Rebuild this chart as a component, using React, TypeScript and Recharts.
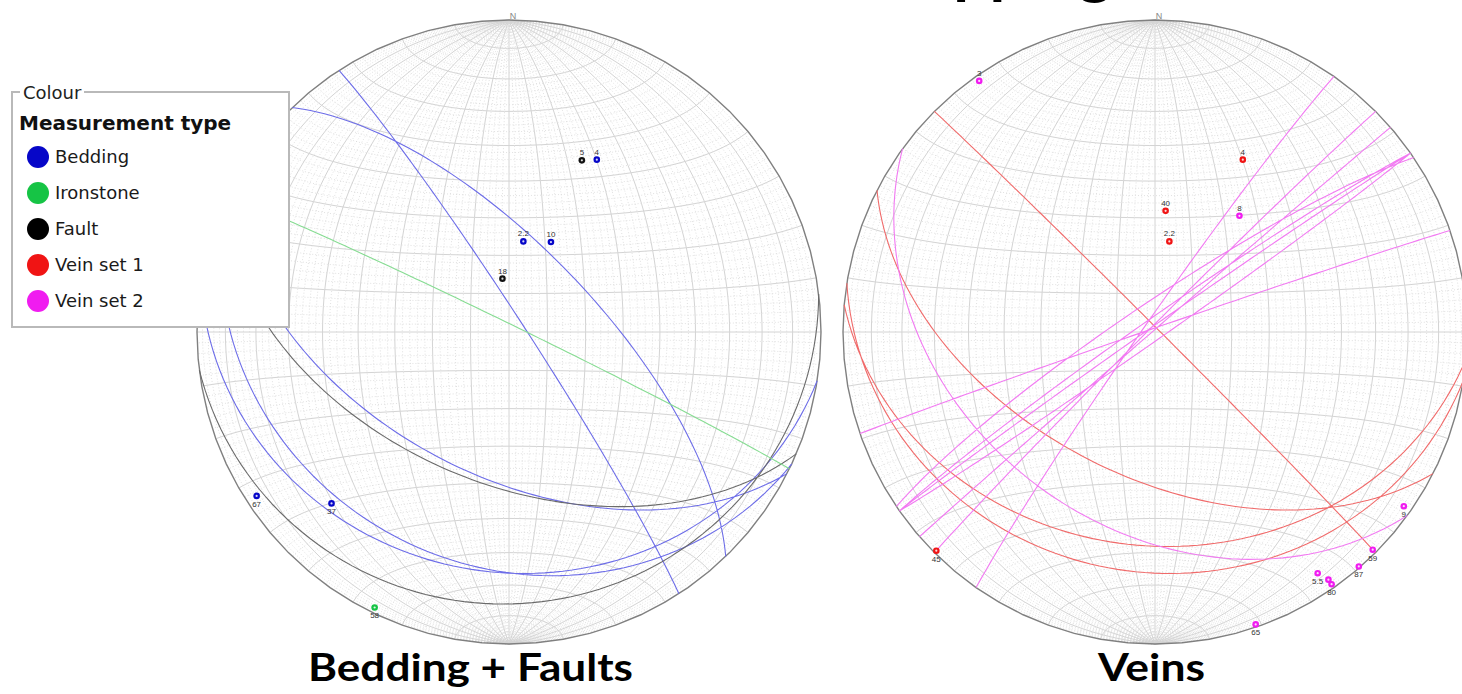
import React from 'react';
import { ComposedChart, Line, Scatter, XAxis, YAxis } from 'recharts';

// plane measurements: dip direction / dip (poles and great circles both come from these)
const beddingDipDir = [207, 189, 205, 57, 46];
const beddingDip = [52, 24, 26, 86, 68];
const beddingLabels = ['4', '2.2', '10', '67', '37'];

const faultDipDir = [203, 173];
const faultDip = [50, 14];
const faultLabels = ['5', '18'];

const ironDipDir = [26];
const ironDip = [88];
const ironLabels = ['58'];

const vein1DipDir = [207, 185, 189, 45];
const vein1Dip = [52, 32, 24, 89];
const vein1Labels = ['4', '40', '2.2', '45'];

const vein2DipDir = [145, 216, 315, 305, 319, 326, 325, 325, 341];
const vein2Dip = [88, 38, 88.5, 87, 89.5, 82.5, 86.5, 88.5, 89];
const vein2Labels = ['3', '8', '59', '9', '87', '5.5', '', '80', '65'];

const legendNames = ['Bedding', 'Ironstone', 'Fault', 'Vein set 1', 'Vein set 2'];

// net grid spacing (degrees)
const majorStep = 10;
const minorStep = 2;

const COLORS: Record<string, { line: string; dot: string }> = {
  Bedding: { line: '#6c6ce8', dot: '#0606c8' },
  Ironstone: { line: '#86dc92', dot: '#16c445' },
  Fault: { line: '#6a6a6a', dot: '#111111' },
  'Vein set 1': { line: '#f06a6a', dot: '#f01414' },
  'Vein set 2': { line: '#f27af2', dot: '#f01cf0' },
};

const D2R = Math.PI / 180;
type Vec = [number, number, number]; // north, east, down
type Pt = { x: number; y: number | null; label?: string };

// lower hemisphere, equal-area (Schmidt) projection
const project = (v: Vec): Pt => {
  let [n, e, d] = v;
  if (d < 0) {
    n = -n;
    e = -e;
    d = -d;
  }
  const h = Math.hypot(n, e);
  const r = Math.sqrt(Math.max(0, 1 - Math.min(1, d)));
  if (h < 1e-12) return { x: 0, y: 0 };
  return { x: (r * e) / h, y: (r * n) / h };
};

const greatCircle = (dd: number, dip: number, step = 2): Pt[] => {
  const s: Vec = [Math.cos((dd - 90) * D2R), Math.sin((dd - 90) * D2R), 0];
  const w: Vec = [
    Math.cos(dip * D2R) * Math.cos(dd * D2R),
    Math.cos(dip * D2R) * Math.sin(dd * D2R),
    Math.sin(dip * D2R),
  ];
  const out: Pt[] = [];
  for (let a = 0; a <= 180; a += step) {
    const c = Math.cos(a * D2R);
    const sn = Math.sin(a * D2R);
    out.push(project([c * s[0] + sn * w[0], c * s[1] + sn * w[1], c * s[2] + sn * w[2]]));
  }
  return out;
};

// small circle about the N-S axis
const smallCircle = (alpha: number, step = 2): Pt[] => {
  const out: Pt[] = [];
  for (let f = 0; f <= 180; f += step) {
    out.push(
      project([
        Math.cos(alpha * D2R),
        Math.sin(alpha * D2R) * Math.cos(f * D2R),
        Math.sin(alpha * D2R) * Math.sin(f * D2R),
      ])
    );
  }
  return out;
};

const poleOf = (dd: number, dip: number): Vec => [
  -Math.cos(dd * D2R) * Math.sin(dip * D2R),
  -Math.sin(dd * D2R) * Math.sin(dip * D2R),
  Math.cos(dip * D2R),
];

const joinPaths = (paths: Pt[][]): Pt[] => {
  const out: Pt[] = [];
  paths.forEach((p) => {
    out.push(...p);
    out.push({ x: 0, y: null });
  });
  return out;
};

const buildGrid = (step: number, skip: number, res: number) => {
  const paths: Pt[][] = [];
  for (let a = step; a < 90; a += step) {
    if (skip && a % skip === 0) continue;
    paths.push(greatCircle(90, a, res));
    paths.push(greatCircle(270, a, res));
    paths.push(smallCircle(a, res));
    paths.push(smallCircle(180 - a, res));
  }
  return joinPaths(paths);
};

const minorGrid = buildGrid(minorStep, majorStep, 3);
const majorGrid = joinPaths([
  ...buildGrid(majorStep, 0, 2).length ? [buildGrid(majorStep, 0, 2)] : [],
  greatCircle(90, 90, 2),
  [
    { x: -1, y: 0 },
    { x: 1, y: 0 },
  ],
]);

const primitive: Pt[] = [];
for (let a = 0; a <= 360; a += 5) primitive.push({ x: Math.sin(a * D2R), y: Math.cos(a * D2R) });

type SetDef = { name: string; dipDir: number[]; dip: number[]; labels: string[] };

const leftSets: SetDef[] = [
  { name: 'Bedding', dipDir: beddingDipDir, dip: beddingDip, labels: beddingLabels },
  { name: 'Fault', dipDir: faultDipDir, dip: faultDip, labels: faultLabels },
  { name: 'Ironstone', dipDir: ironDipDir, dip: ironDip, labels: ironLabels },
];
const rightSets: SetDef[] = [
  { name: 'Vein set 1', dipDir: vein1DipDir, dip: vein1Dip, labels: vein1Labels },
  { name: 'Vein set 2', dipDir: vein2DipDir, dip: vein2Dip, labels: vein2Labels },
];

const makePole = (color: string) => (props: any) => {
  const { cx, cy, payload } = props;
  if (cx == null || cy == null) return <g />;
  const below = payload.y < 0;
  return (
    <g>
      <circle cx={cx} cy={cy} r={3.3} fill={color} />
      <circle cx={cx} cy={cy} r={1.1} fill="#ffffff" opacity={0.85} />
      <text
        x={cx}
        y={below ? cy + 11 : cy - 5}
        textAnchor="middle"
        fontSize={8}
        fontFamily="Liberation Sans, Arial, sans-serif"
        fill="#333"
      >
        {payload.label}
      </text>
    </g>
  );
};

const Net = ({ sets }: { sets: SetDef[] }) => (
  <ComposedChart width={640} height={640} margin={{ top: 8, right: 8, bottom: 8, left: 8 }}>
    <XAxis type="number" dataKey="x" domain={[-1, 1]} hide />
    <YAxis type="number" dataKey="y" domain={[-1, 1]} hide />
    <Line data={minorGrid} dataKey="y" stroke="#d9d9d9" strokeWidth={0.8} strokeDasharray="1 2" dot={false} activeDot={false} isAnimationActive={false} />
    <Line data={majorGrid} dataKey="y" stroke="#d4d4d4" strokeWidth={1} dot={false} activeDot={false} isAnimationActive={false} />
    <Line data={primitive} dataKey="y" stroke="#808080" strokeWidth={1.4} dot={false} activeDot={false} isAnimationActive={false} />
    {sets.map((s) => (
      <Line
        key={'gc-' + s.name}
        data={joinPaths(s.dipDir.map((dd, i) => greatCircle(dd, s.dip[i], 2)))}
        dataKey="y"
        stroke={COLORS[s.name].line}
        strokeWidth={1.1}
        dot={false}
        activeDot={false}
        isAnimationActive={false}
      />
    ))}
    {sets.map((s) => (
      <Scatter
        key={'p-' + s.name}
        data={s.dipDir.map((dd, i) => ({ ...project(poleOf(dd, s.dip[i])), label: s.labels[i] }))}
        fill={COLORS[s.name].dot}
        shape={makePole(COLORS[s.name].dot)}
        isAnimationActive={false}
      />
    ))}
  </ComposedChart>
);

const legendFont = '"DejaVu Sans", Verdana, Tahoma, sans-serif';

export default function App() {
  return (
    <div style={{ position: 'absolute', left: 0, top: 0, width: 1462, height: 694, overflow: 'hidden', background: '#fff' }}>
      <div style={{ position: 'absolute', left: 189, top: 12 }}>
        <Net sets={leftSets} />
      </div>
      <div style={{ position: 'absolute', left: 835, top: 12 }}>
        <Net sets={rightSets} />
      </div>

      <svg width={1462} height={694} style={{ position: 'absolute', left: 0, top: 0, pointerEvents: 'none' }}>
        <text x={861} y={-8} fontSize={64} fontWeight={700} fontFamily="Lato, sans-serif" fill="#000">
          Mapping
        </text>
        <text x={513} y={19} textAnchor="middle" fontSize={9} fontFamily="Liberation Sans, Arial" fill="#888">
          N
        </text>
        <text x={1159} y={19} textAnchor="middle" fontSize={9} fontFamily="Liberation Sans, Arial" fill="#888">
          N
        </text>
        <text x={308} y={681} fontSize={38} fontWeight={700} fontFamily="Lato, sans-serif" fill="#000" textLength={325} lengthAdjust="spacingAndGlyphs">
          Bedding + Faults
        </text>
        <text x={1098} y={681} fontSize={38} fontWeight={700} fontFamily="Lato, sans-serif" fill="#000" textLength={107} lengthAdjust="spacingAndGlyphs">
          Veins
        </text>
      </svg>

      {/* legend box */}
      <div style={{ position: 'absolute', left: 11, top: 91, width: 275, height: 233, border: '2px solid #b9b9b9', background: '#fff' }} />
      <div style={{ position: 'absolute', left: 20, top: 82, padding: '0 3px', background: '#fff', fontFamily: legendFont, fontSize: 18, lineHeight: '22px', color: '#222' }}>
        Colour
      </div>
      <div style={{ position: 'absolute', left: 19, top: 111, fontFamily: legendFont, fontSize: 20, fontWeight: 700, lineHeight: '24px', color: '#111' }}>
        Measurement type
      </div>
      {legendNames.map((name, i) => (
        <div key={name} style={{ position: 'absolute', left: 27, top: 146 + i * 36, height: 22, display: 'flex', alignItems: 'center' }}>
          <span style={{ width: 22, height: 22, borderRadius: 11, background: COLORS[name].dot === '#111111' ? '#000' : COLORS[name].dot, display: 'inline-block' }} />
          <span style={{ marginLeft: 6, fontFamily: legendFont, fontSize: 18, lineHeight: '22px', color: '#1a1a1a' }}>{name}</span>
        </div>
      ))}
    </div>
  );
}
